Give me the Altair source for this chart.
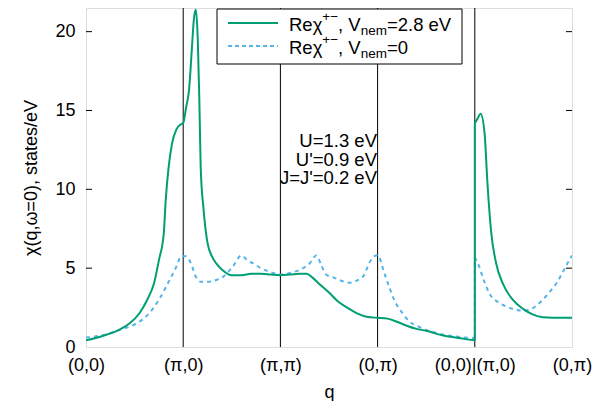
import altair as alt
import pandas as pd

FONT = "Liberation Sans"
GREEN = "#009e73"
BLUE = "#56b4e9"

# ---- data ----
x_tick_labels = ["(0,0)", "(π,0)", "(π,π)", "(0,π)", "(0,0)|(π,0)", "(0,π)"]
x_tick_pos = [0, 1, 2, 3, 4, 5]
y_ticks = [0, 5, 10, 15, 20]
sym_lines = [1, 2, 3, 4]

# Re chi+-, V_nem = 2.8 eV ; two path segments: before and after the (0,0)|(pi,0) jump
g_x1 = [0, 0.17, 0.34, 0.45, 0.55, 0.63, 0.7, 0.75, 0.8, 0.82, 0.85, 0.885, 0.93, 0.97, 1.0,
        1.03, 1.06, 1.09, 1.11, 1.13, 1.15, 1.166, 1.18, 1.21, 1.25, 1.3, 1.34, 1.4, 1.5, 1.6,
        1.7, 1.8, 1.9, 2.0, 2.1, 2.2, 2.27, 2.33, 2.4, 2.5, 2.6, 2.7, 2.8, 2.9, 3.0, 3.1, 3.2,
        3.3, 3.4, 3.5, 3.6, 3.7, 3.8, 3.9, 4.0]
g_y1 = [0.42, 0.7, 1.08, 1.5, 2.14, 3.0, 4.05, 5.5, 7.2, 9.3, 11.4, 12.9, 13.8, 14.1, 14.2,
        15.2, 16.3, 19.0, 20.8, 21.4, 19.5, 15.7, 11.4, 8.7, 6.6, 5.7, 5.3, 4.9, 4.55, 4.55,
        4.65, 4.65, 4.6, 4.55, 4.6, 4.65, 4.65, 4.4, 4.0, 3.45, 2.85, 2.45, 2.1, 1.9, 1.85, 1.8,
        1.6, 1.35, 1.15, 1.03, 0.85, 0.7, 0.6, 0.5, 0.42]
g_x2 = [4.0, 4.03, 4.06, 4.1, 4.13, 4.17, 4.22, 4.29, 4.39, 4.5, 4.6, 4.7, 4.8, 4.9, 5.0]
g_y2 = [14.2, 14.5, 14.8, 13.6, 10.4, 7.2, 5.3, 4.0, 3.0, 2.4, 2.05, 1.88, 1.85, 1.85, 1.85]

# Re chi+-, V_nem = 0
b_x1 = [0, 0.17, 0.34, 0.51, 0.65, 0.75, 0.86, 0.93, 0.98, 1.03, 1.08, 1.13, 1.18, 1.27,
        1.34, 1.41, 1.51, 1.6, 1.66, 1.72, 1.8, 1.9, 2.0, 2.1, 2.2, 2.3, 2.37, 2.42, 2.47,
        2.55, 2.65, 2.71, 2.8, 2.85, 2.93, 3.0, 3.07, 3.12, 3.17, 3.25, 3.33, 3.42, 3.5, 3.6,
        3.7, 3.8, 3.9, 4.0]
b_y1 = [0.6, 0.75, 1.08, 1.46, 2.14, 3.0, 4.25, 5.1, 5.75, 5.75, 5.3, 4.46, 4.14, 4.14,
        4.25, 4.45, 5.1, 5.8, 5.5, 5.3, 5.0, 4.75, 4.6, 4.7, 4.9, 5.3, 5.8, 5.2, 4.6,
        4.4, 4.15, 4.08, 4.25, 4.46, 5.5, 5.83, 4.67, 3.8, 3.0, 2.2, 1.6, 1.3, 1.08, 0.9,
        0.76, 0.68, 0.6, 0.55]
b_x2 = [4.0, 4.04, 4.08, 4.15, 4.26, 4.35, 4.43, 4.5, 4.56, 4.63, 4.7, 4.77, 4.84, 4.91,
        4.98, 5.0]
b_y2 = [5.7, 5.2, 4.46, 3.4, 2.77, 2.5, 2.35, 2.3, 2.35, 2.6, 3.0, 3.5, 4.04, 4.8, 5.6, 5.8]

params_text = ["U=1.3 eV", "U'=0.9 eV", "J=J'=0.2 eV"]


# ---- frames ----
def seg_frame(xs1, ys1, xs2, ys2):
    return pd.DataFrame({"q": xs1 + xs2, "chi": ys1 + ys2,
                         "seg": [0] * len(xs1) + [1] * len(xs2),
                         "i": list(range(len(xs1) + len(xs2)))})


gdf = seg_frame(g_x1, g_y1, g_x2, g_y2)
bdf = seg_frame(b_x1, b_y1, b_x2, b_y2)
gjump = pd.DataFrame({"q": [g_x1[-1]], "lo": [g_y1[-1]], "hi": [g_y2[0]]})
bjump = pd.DataFrame({"q": [b_x1[-1]], "lo": [b_y1[-1]], "hi": [b_y2[0]]})
vdf = pd.DataFrame({"q": sym_lines})
tdf = pd.DataFrame({"chi": y_ticks[1:]})
one = pd.DataFrame({"a": [0]})

W_PLOT, H_PLOT = 486, 339
label_expr = "[" + ",".join("'" + s + "'" for s in x_tick_labels) + "][round(datum.value)]"

xscale = alt.Scale(domain=[0, 5], nice=False, zero=False)
yscale = alt.Scale(domain=[0, 21.5], nice=False)

xaxis = alt.Axis(values=x_tick_pos, labelExpr=label_expr, ticks=False, domain=False, grid=False,
                 labelFontSize=18, labelFont=FONT, labelColor="black", labelPadding=9,
                 labelFlush=False, title="q", titleFontSize=18, titleFont=FONT,
                 titleFontWeight="normal", titleColor="black", titlePadding=9)
yaxis = alt.Axis(values=y_ticks, ticks=False, domain=False, grid=False,
                 labelFontSize=18, labelFont=FONT, labelColor="black", labelPadding=11,
                 title="χ(q,ω=0), states/eV", titleFontSize=18, titleFont=FONT,
                 titleFontWeight="normal", titleColor="black", titlePadding=14)

vlines = alt.Chart(vdf).mark_rule(color="black", strokeWidth=1).encode(
    x=alt.X("q:Q", scale=xscale, axis=xaxis))

lticks = alt.Chart(tdf).mark_rule(color="black", strokeWidth=1).encode(
    y=alt.Y("chi:Q", scale=yscale, axis=yaxis), x=alt.value(0), x2=alt.value(6))
rticks = alt.Chart(tdf).mark_rule(color="black", strokeWidth=1).encode(
    y=alt.Y("chi:Q", scale=yscale), x=alt.value(W_PLOT - 6), x2=alt.value(W_PLOT))

gline = alt.Chart(gdf).mark_line(color=GREEN, strokeWidth=2, clip=True,
                                 interpolate="monotone").encode(
    x=alt.X("q:Q", scale=xscale), y=alt.Y("chi:Q", scale=yscale),
    detail="seg:N", order="i:Q")
gj = alt.Chart(gjump).mark_rule(color=GREEN, strokeWidth=2).encode(
    x=alt.X("q:Q", scale=xscale), y=alt.Y("lo:Q", scale=yscale), y2="hi:Q")
bline = alt.Chart(bdf).mark_line(color=BLUE, strokeWidth=2, strokeDash=[4, 4], clip=True,
                                 interpolate="monotone").encode(
    x=alt.X("q:Q", scale=xscale), y=alt.Y("chi:Q", scale=yscale),
    detail="seg:N", order="i:Q")
bj = alt.Chart(bjump).mark_rule(color=BLUE, strokeWidth=2, strokeDash=[4, 4]).encode(
    x=alt.X("q:Q", scale=xscale), y=alt.Y("lo:Q", scale=yscale), y2="hi:Q")

# ---- legend ----
box = alt.Chart(one).mark_rect(fill="white", stroke="black", strokeWidth=1).encode(
    x=alt.value(131), x2=alt.value(376), y=alt.value(1), y2=alt.value(56))
samp1 = alt.Chart(one).mark_rule(color=GREEN, strokeWidth=2).encode(
    x=alt.value(142), x2=alt.value(192), y=alt.value(15))
samp2 = alt.Chart(one).mark_rule(color=BLUE, strokeWidth=2, strokeDash=[4, 3]).encode(
    x=alt.value(142), x2=alt.value(192), y=alt.value(38))

AW = {"R": .722, "e": .556, "χ": .52, "+": .584, "−": .584, ",": .278, " ": .278, "V": .667,
      "n": .556, "m": .833, "=": .584, "2": .556, ".": .278, "8": .556, "0": .556}


def width(s, size):
    return sum(AW.get(c, .556) for c in s) * size


def txt(s, x, y, size, align="left"):
    return alt.Chart(one).mark_text(text=s, align=align, baseline="alphabetic", fontSize=size,
                                    font=FONT, color="black").encode(x=alt.value(x), y=alt.value(y))


def legend_row(tail, base_y):
    big, small = 18.5, 13.5
    parts = [("Reχ", big, 0), ("+−", small, -10), (", V", big, 0), ("nem", small, 4), (tail, big, 0)]
    x = 203
    out = []
    for s, size, dy in parts:
        out.append(txt(s, x, base_y + dy, size))
        x += width(s, size)
    return out


leg = [box, samp1, samp2] + legend_row("=2.8 eV", 22.5) + legend_row("=0", 45.5)

ann = [txt(s, 291, 138.6 + 18.9 * k, 18.5, align="right") for k, s in enumerate(params_text)]

chart = alt.layer(vlines, lticks, rticks, bline, bj, gline, gj, *leg, *ann).properties(
    width=W_PLOT, height=H_PLOT,
    autosize=alt.AutoSizeParams(type="none"),
    padding={"left": 78, "top": 0, "right": 26, "bottom": 54},
).configure_view(stroke="black", strokeWidth=1).configure(font=FONT)

chart.save("out.html", embed_options={"renderer": "svg", "actions": False})
